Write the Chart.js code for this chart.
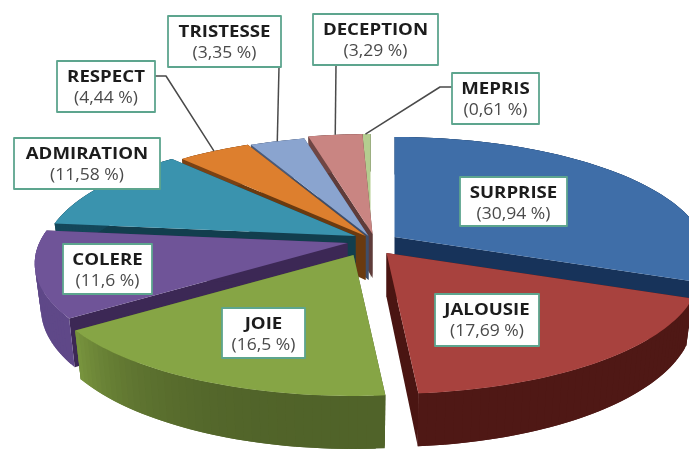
<!DOCTYPE html>
<html><head><meta charset="utf-8">
<style>html,body{margin:0;padding:0;background:#fff;overflow:hidden}canvas{display:block;filter:blur(0.5px)}</style>
<script src="https://cdn.jsdelivr.net/npm/chart.js@4/dist/chart.umd.min.js"></script>
</head><body><canvas id="c" width="689" height="450"></canvas>
<script>
const categories=['SURPRISE','JALOUSIE','JOIE','COLERE','ADMIRATION','RESPECT','TRISTESSE','DECEPTION','MEPRIS'];
const shares=[30.94,17.69,16.5,11.6,11.58,4.44,3.35,3.29,0.61];
const topColors=['#3f6ea8','#a8423e','#86a545','#6f5498','#3a93ae','#dd7f2e','#8aa4cf','#c98582','#b4cd8f'];
const wallColors=['#1a3a62','#4f1815','#7d9a40','#5f4888','#14475a','#7a4214','#4a5a78','#6f4644','#5f6f47'];
const radialColors=['#17335a','#4a1512','#4a5a26','#3c2855','#123e4e','#6a3a10','#3f4e6a','#5f3c3a','#55633f'];
// exploded-slice displacement from the pie centre (px)
const explodeX=[50,42,9,3,11,21,24,28,26];
const explodeY=[12,28,30,18,11,11,11,9,9];
const drawOrder=[8,7,6,5,4,0,3,1,2];
// callout boxes [left, top, right, bottom]
const boxes=[[460,177,567,226],[435,294,539,346],[222,308,305,358],[63,244,152,294],[14,138,160,189],[57,61,155,112],[168,16,281,67],[313,14,438,65],[452,73,539,124]];
const leaders={5:[[155,76],[166,76]],6:[[279,67]],7:[[336,65]],8:[[452,87],[440,87]]};
const kx=1.37,ky=0.52,persp=0.17,depth=44,textStretch=1.13;

function project(el,i,r,th,z){
  const R=el.outerRadius, cx=el.x+explodeX[i], cy=el.y+explodeY[i];
  const u=r*Math.sin(th), v=-r*Math.cos(th), w=1-persp*v;
  let x=cx+R*kx*u/w, y=cy+R*ky*v/w;
  if(z){ y+=depth/w; x=cx+(x-cx)*0.98; }
  return [x,y];
}
function shadeWall(hex,th,i){
  const deg=th*180/Math.PI; let f=1;
  if(i===2){ const p=Math.max(0,(deg-175)/60); f=0.64+0.36*p*p*p; }
  const n=parseInt(hex.slice(1),16);
  return 'rgb('+[(n>>16)&255,(n>>8)&255,n&255].map(c=>Math.round(c*f)).join(',')+')';
}
function poly(ctx,p,col){
  ctx.fillStyle=col;
  ctx.beginPath();ctx.moveTo(p[0][0],p[0][1]);for(let k=1;k<p.length;k++)ctx.lineTo(p[k][0],p[k][1]);ctx.closePath();ctx.fill();
}
function stretched(ctx,text,x,y){
  ctx.save();ctx.translate(x,y);ctx.scale(textStretch,1);ctx.fillText(text,0,0);ctx.restore();
}
const pie3d={id:'pie3d',
  beforeDatasetsDraw(chart){
    const ctx=chart.ctx, els=chart.getDatasetMeta(0).data;
    drawOrder.forEach(i=>{
      const el=els[i], a0=el.startAngle+Math.PI/2, a1=el.endAngle+Math.PI/2;
      const n=Math.max(4,Math.ceil((a1-a0)*40));
      const ang=k=>a0+(a1-a0)*k/n;
      [a0,a1].forEach(a=>poly(ctx,[project(el,i,0,a,0),project(el,i,1,a,0),project(el,i,1,a,1),project(el,i,0,a,1)],radialColors[i]));
      for(let k=n-1;k>=0;k--){
        // each band runs under its neighbour so no seams show between bands
        const t0=ang(k),t1=ang(Math.min(n,k+2)),tc=ang(k+0.5);
        poly(ctx,[project(el,i,1,t0,0),project(el,i,1,t1,0),project(el,i,1,t1,1),project(el,i,1,t0,1)],shadeWall(wallColors[i],tc,i));
      }
      const top=[project(el,i,0,a0,0)];
      for(let k=0;k<=n;k++)top.push(project(el,i,1,ang(k),0));
      poly(ctx,top,topColors[i]);
    });
    return false;
  },
  afterDraw(chart){
    const ctx=chart.ctx, els=chart.getDatasetMeta(0).data;
    ctx.save();ctx.lineJoin='round';
    Object.keys(leaders).forEach(i=>{
      const el=els[i], mid=(el.startAngle+el.endAngle)/2+Math.PI/2, end=project(el,+i,1,mid,0), pts=leaders[i];
      ctx.strokeStyle='#4a4a4a';ctx.lineWidth=1.5;ctx.beginPath();ctx.moveTo(pts[0][0],pts[0][1]);
      pts.slice(1).forEach(p=>ctx.lineTo(p[0],p[1]));ctx.lineTo(end[0],end[1]);ctx.stroke();
    });
    categories.forEach((name,i)=>{
      const [l,t,r,b]=boxes[i];
      ctx.fillStyle='#fff';ctx.fillRect(l,t,r-l,b-t);
      ctx.strokeStyle='#5da58e';ctx.lineWidth=1.8;ctx.strokeRect(l,t,r-l,b-t);
      const mx=(l+r)/2;
      ctx.textAlign='center';ctx.textBaseline='middle';
      ctx.fillStyle='#1c1c1c';ctx.font='700 16.5px "Open Sans"';
      stretched(ctx,name,mx,t+16);
      ctx.fillStyle='#4a4a4a';ctx.font='400 15.5px "Open Sans"';
      stretched(ctx,'('+String(shares[i]).replace('.',',')+' %)',mx,t+38);
    });
    ctx.restore();
  }
};
new Chart(document.getElementById('c'),{
  type:'pie',
  data:{labels:categories,datasets:[{data:shares,backgroundColor:topColors,borderWidth:0}]},
  options:{responsive:false,animation:false,layout:{padding:0},plugins:{legend:{display:false},tooltip:{enabled:false}}},
  plugins:[pie3d]
});
</script></body></html>
